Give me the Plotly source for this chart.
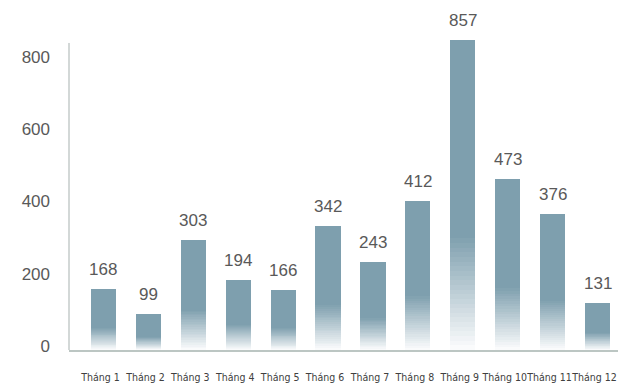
import plotly.graph_objects as go

categories = ["Tháng 1", "Tháng 2", "Tháng 3", "Tháng 4", "Tháng 5", "Tháng 6",
              "Tháng 7", "Tháng 8", "Tháng 9", "Tháng 10", "Tháng 11", "Tháng 12"]
values = [168, 99, 303, 194, 166, 342, 243, 412, 857, 473, 376, 131]
y_ticks = [0, 200, 400, 600, 800]

SOLID = (126, 159, 174)
LIGHT = (250, 251, 252)
FADE_FRAC = 0.36
N = 24

fig = go.Figure()
for k in range(N + 1):
    t = k / N
    r = round(LIGHT[0] + (SOLID[0] - LIGHT[0]) * t)
    g = round(LIGHT[1] + (SOLID[1] - LIGHT[1]) * t)
    b = round(LIGHT[2] + (SOLID[2] - LIGHT[2]) * t)
    bases = [v * FADE_FRAC * t for v in values]
    heights = [v - bb for v, bb in zip(values, bases)]
    fig.add_trace(go.Bar(
        x=categories, y=heights, base=bases, width=0.56,
        marker=dict(color=f"rgb({r},{g},{b})", line=dict(width=0)),
        showlegend=False, hoverinfo="skip",
    ))

for c, v in zip(categories, values):
    fig.add_annotation(x=c, y=v, text=str(v), showarrow=False, yanchor="bottom",
                       yshift=8, font=dict(family="Liberation Sans, Arial", size=17, color="#595959"))

fig.add_shape(type="line", xref="paper", yref="y", x0=0, x1=0, y0=0, y1=849,
              line=dict(color="#a7b1af", width=1))

fig.update_layout(
    width=618, height=383,
    margin=dict(l=69, r=0, t=5, b=33),
    paper_bgcolor="white", plot_bgcolor="white",
    barmode="overlay", bargap=0,
    xaxis=dict(type="category", range=[-0.768, 11.456], showgrid=False, zeroline=False,
               showline=True, linecolor="#bcc6c3", linewidth=2, ticks="",
               tickangle=0, automargin=False, ticklabelstandoff=16, ticklabelshift=-3,
               tickfont=dict(family="DejaVu Sans Condensed, Roboto Condensed, Liberation Sans Narrow, sans-serif",
                             size=10.5, color="#404040")),
    yaxis=dict(range=[0, 954], showgrid=False, zeroline=False, showline=False, automargin=False,
               tickvals=y_ticks, ticks="", ticklabelstandoff=18, ticklabelshift=-4,
               tickfont=dict(family="Liberation Sans, Arial", size=17, color="#595959")),
)

fig.write_html("out.html")
